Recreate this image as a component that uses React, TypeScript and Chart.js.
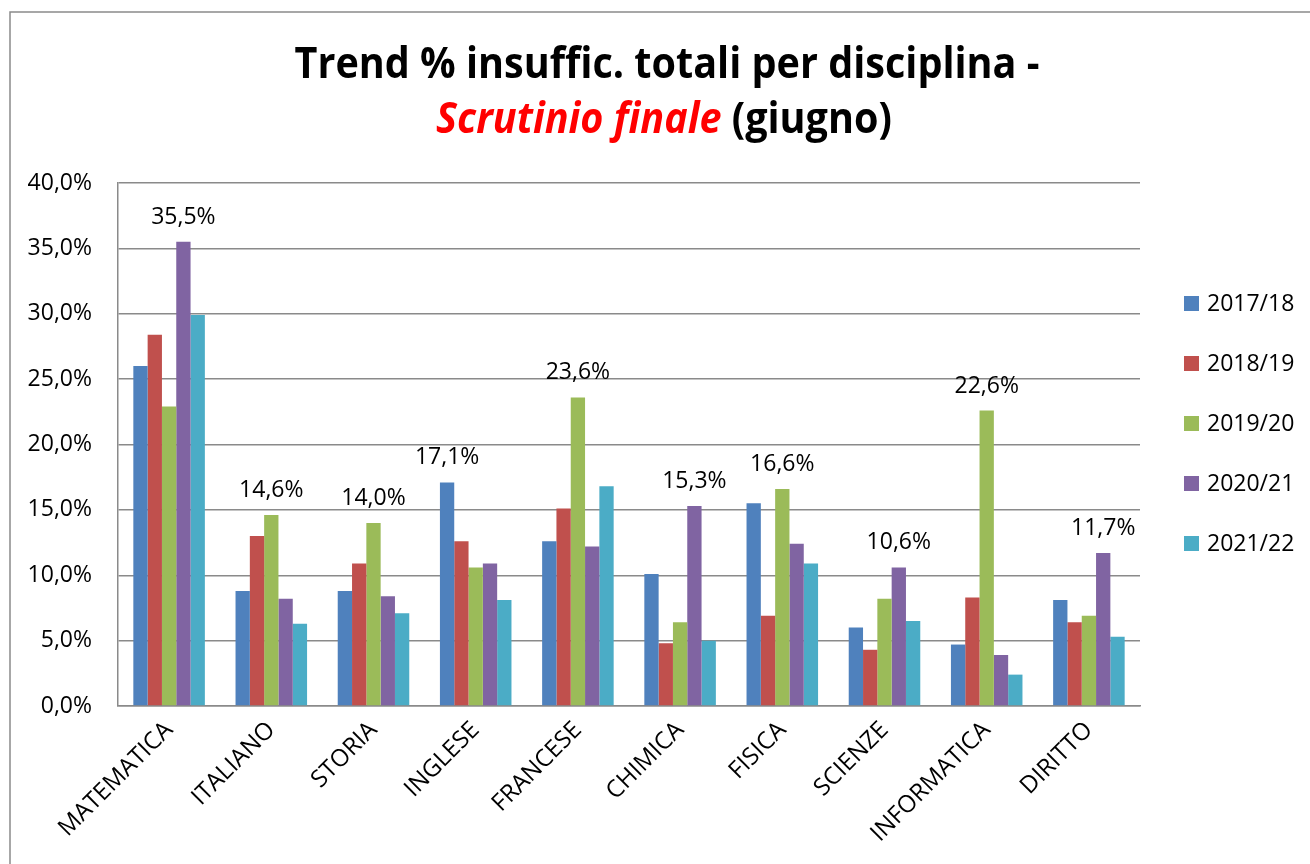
import React, { useEffect, useRef } from "react";
import { Chart, registerables } from "chart.js";

Chart.register(...registerables);

const CATEGORIES = ["MATEMATICA", "ITALIANO", "STORIA", "INGLESE", "FRANCESE", "CHIMICA", "FISICA", "SCIENZE", "INFORMATICA", "DIRITTO"];
const SERIES_LABELS = ["2017/18", "2018/19", "2019/20", "2020/21", "2021/22"];
const S_2017_18 = [26.0, 8.8, 8.8, 17.1, 12.6, 10.1, 15.5, 6.0, 4.7, 8.1];
const S_2018_19 = [28.4, 13.0, 10.9, 12.6, 15.1, 4.8, 6.9, 4.3, 8.3, 6.4];
const S_2019_20 = [22.9, 14.6, 14.0, 10.6, 23.6, 6.4, 16.6, 8.2, 22.6, 6.9];
const S_2020_21 = [35.5, 8.2, 8.4, 10.9, 12.2, 15.3, 12.4, 10.6, 3.9, 11.7];
const S_2021_22 = [29.9, 6.3, 7.1, 8.1, 16.8, 5.0, 10.9, 6.5, 2.4, 5.3];
const SERIES_COLORS = ["#4F81BD", "#C0504D", "#9BBB59", "#8064A2", "#4BACC6"];
const Y_MIN = 0;
const Y_MAX = 40;
const Y_STEP = 5;
const TITLE_LINE1 = "Trend % insuffic. totali per disciplina -";
const TITLE_RED = "Scrutinio finale";
const TITLE_REST = " (giugno)";

const FONT = "'Open Sans', 'Noto Sans', sans-serif";
const fmt = (v: number) => v.toFixed(1).replace(".", ",") + "%";

const framePlugin = {
  id: "frame",
  beforeDraw(chart: any) {
    const ctx = chart.ctx;
    ctx.save();
    ctx.fillStyle = "#ffffff";
    ctx.fillRect(0, 0, chart.width, chart.height);
    ctx.strokeStyle = "#8a8a8a";
    ctx.lineWidth = 1.5;
    ctx.strokeRect(10, 12, chart.width + 20, chart.height + 20);
    ctx.restore();
  },
  afterDraw(chart: any) {
    const ctx = chart.ctx;
    ctx.save();
    // Title (narrow face emulated by horizontal scaling)
    const size = 43;
    ctx.font = `bold ${size}px ${FONT}`;
    const w1 = ctx.measureText(TITLE_LINE1).width;
    const sx = 745 / w1;
    ctx.fillStyle = "#000000";
    ctx.textAlign = "left";
    ctx.textBaseline = "alphabetic";
    ctx.save();
    ctx.translate(667 - 745 / 2, 78);
    ctx.scale(sx, 1);
    ctx.fillText(TITLE_LINE1, 0, 0);
    ctx.restore();

    ctx.font = `italic bold ${size}px ${FONT}`;
    const wr = ctx.measureText(TITLE_RED).width;
    ctx.font = `bold ${size}px ${FONT}`;
    const wg = ctx.measureText(TITLE_REST).width;
    const total = (wr + wg) * sx;
    ctx.save();
    ctx.translate(664 - total / 2, 133);
    ctx.scale(sx, 1);
    ctx.font = `italic bold ${size}px ${FONT}`;
    ctx.fillStyle = "#FF0000";
    ctx.fillText(TITLE_RED, 0, 0);
    ctx.font = `bold ${size}px ${FONT}`;
    ctx.fillStyle = "#000000";
    ctx.fillText(TITLE_REST, wr, 0);
    ctx.restore();

    // Legend
    const lx = 1184;
    const ly = 303.5;
    const step = 60;
    ctx.font = `23px ${FONT}`;
    ctx.textBaseline = "middle";
    chart.data.datasets.forEach((ds: any, i: number) => {
      const cy = ly + i * step;
      ctx.fillStyle = ds.backgroundColor;
      ctx.fillRect(lx, cy - 7.5, 15, 15);
      ctx.fillStyle = "#000000";
      ctx.fillText(ds.label, lx + 23, cy + 1);
    });
    ctx.restore();
  },
  afterDatasetsDraw(chart: any) {
    const ctx = chart.ctx;
    ctx.save();
    ctx.font = `23px ${FONT}`;
    ctx.fillStyle = "#000000";
    ctx.textAlign = "center";
    ctx.textBaseline = "alphabetic";
    const n = chart.data.labels.length;
    for (let i = 0; i < n; i++) {
      let best = -1;
      let bv = -Infinity;
      chart.data.datasets.forEach((ds: any, d: number) => {
        if (ds.data[i] > bv) {
          bv = ds.data[i];
          best = d;
        }
      });
      const el = chart.getDatasetMeta(best).data[i];
      ctx.fillText(fmt(bv), el.x, el.y - 18);
    }
    ctx.restore();
  },
};

export default function App() {
  const ref = useRef<HTMLCanvasElement | null>(null);
  useEffect(() => {
    if (!ref.current) return;
    const seriesData = [S_2017_18, S_2018_19, S_2019_20, S_2020_21, S_2021_22];
    const chart = new Chart(ref.current, {
      type: "bar",
      data: {
        labels: CATEGORIES,
        datasets: SERIES_LABELS.map((label, i) => ({
          label,
          data: seriesData[i],
          backgroundColor: SERIES_COLORS[i],
          borderWidth: 0,
          categoryPercentage: 0.7,
          barPercentage: 1.0,
        })),
      },
      options: {
        responsive: true,
        maintainAspectRatio: false,
        animation: false,
        layout: { padding: { top: 183, right: 170, bottom: 0, left: 0 } },
        plugins: {
          legend: { display: false },
          title: { display: false },
          tooltip: { enabled: false },
        },
        scales: {
          x: {
            grid: { display: false, drawTicks: false },
            border: { display: true, color: "#8a8a8a", width: 1.5 },
            ticks: {
              color: "#000000",
              font: { family: FONT, size: 24 },
              minRotation: 45,
              maxRotation: 45,
              autoSkip: false,
              padding: 10,
            },
            afterFit: (scale: any) => {
              scale.height = 158;
            },
          },
          y: {
            min: Y_MIN,
            max: Y_MAX,
            grid: { color: "#8a8a8a", lineWidth: 1.5, drawTicks: false },
            border: { display: true, color: "#8a8a8a", width: 1.5 },
            ticks: {
              stepSize: Y_STEP,
              color: "#000000",
              font: { family: FONT, size: 23 },
              padding: 26,
              callback: (v: any) => fmt(Number(v)),
            },
            afterFit: (scale: any) => {
              scale.width = 118;
            },
          },
        },
      },
      plugins: [framePlugin],
    });
    return () => chart.destroy();
  }, []);
  return (
    <div style={{ position: "fixed", left: 0, top: 0, width: 1310, height: 864, background: "#fff" }}>
      <canvas ref={ref} />
    </div>
  );
}
